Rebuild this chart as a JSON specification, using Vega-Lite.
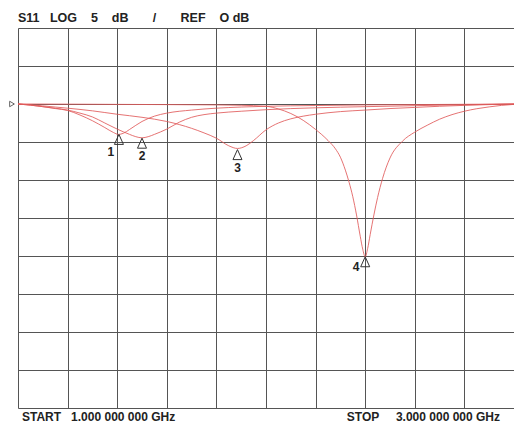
{
  "$schema": "https://vega.github.io/schema/vega-lite/v6.json",
  "width": 496,
  "height": 380,
  "padding": {"left": 18, "top": 28, "right": 0, "bottom": 21},
  "autosize": {"type": "none"},
  "background": "white",
  "config": {
    "view": {"stroke": null},
    "font": "Liberation Sans",
    "axis": {"grid": true, "gridColor": "#555", "gridWidth": 1, "gridOpacity": 1, "labels": false, "ticks": false, "domain": false, "title": null}
  },
  "title": {
    "text": "S11\u00a0\u00a0\u00a0LOG\u00a0\u00a0\u00a0\u00a05\u00a0\u00a0\u00a0\u00a0dB\u00a0\u00a0\u00a0\u00a0\u00a0\u00a0\u00a0/\u00a0\u00a0\u00a0\u00a0\u00a0\u00a0\u00a0REF\u00a0\u00a0\u00a0\u00a0O dB",
    "anchor": "start",
    "frame": "group",
    "fontSize": 12.5,
    "fontWeight": "bold",
    "color": "#222",
    "offset": 4,
    "font": "Liberation Sans"
  },
  "datasets": {
    "traces": [
      {"s": 1, "f": 1.00, "db": 0}, {"s": 1, "f": 1.05, "db": -0.15}, {"s": 1, "f": 1.10, "db": -0.35}, {"s": 1, "f": 1.15, "db": -0.6}, {"s": 1, "f": 1.20, "db": -0.85}, {"s": 1, "f": 1.25, "db": -1.45}, {"s": 1, "f": 1.30, "db": -2.2}, {"s": 1, "f": 1.35, "db": -3.1}, {"s": 1, "f": 1.385, "db": -3.75}, {"s": 1, "f": 1.405, "db": -4.0}, {"s": 1, "f": 1.425, "db": -3.85}, {"s": 1, "f": 1.45, "db": -3.35}, {"s": 1, "f": 1.50, "db": -2.3}, {"s": 1, "f": 1.55, "db": -1.6}, {"s": 1, "f": 1.60, "db": -1.2}, {"s": 1, "f": 1.70, "db": -0.8}, {"s": 1, "f": 1.80, "db": -0.55}, {"s": 1, "f": 1.90, "db": -0.4}, {"s": 1, "f": 2.00, "db": -0.3}, {"s": 1, "f": 2.20, "db": -0.2}, {"s": 1, "f": 2.40, "db": -0.12}, {"s": 1, "f": 2.60, "db": -0.08}, {"s": 1, "f": 2.80, "db": -0.04}, {"s": 1, "f": 3.00, "db": 0},
      {"s": 2, "f": 1.00, "db": 0}, {"s": 2, "f": 1.05, "db": -0.15}, {"s": 2, "f": 1.10, "db": -0.35}, {"s": 2, "f": 1.15, "db": -0.55}, {"s": 2, "f": 1.20, "db": -0.8}, {"s": 2, "f": 1.25, "db": -1.2}, {"s": 2, "f": 1.30, "db": -1.7}, {"s": 2, "f": 1.35, "db": -2.5}, {"s": 2, "f": 1.40, "db": -3.3}, {"s": 2, "f": 1.45, "db": -4.0}, {"s": 2, "f": 1.475, "db": -4.3}, {"s": 2, "f": 1.50, "db": -4.45}, {"s": 2, "f": 1.525, "db": -4.3}, {"s": 2, "f": 1.55, "db": -4.0}, {"s": 2, "f": 1.60, "db": -3.3}, {"s": 2, "f": 1.65, "db": -2.4}, {"s": 2, "f": 1.70, "db": -1.75}, {"s": 2, "f": 1.75, "db": -1.4}, {"s": 2, "f": 1.80, "db": -1.2}, {"s": 2, "f": 1.90, "db": -0.95}, {"s": 2, "f": 2.00, "db": -0.75}, {"s": 2, "f": 2.20, "db": -0.5}, {"s": 2, "f": 2.40, "db": -0.35}, {"s": 2, "f": 2.60, "db": -0.22}, {"s": 2, "f": 2.80, "db": -0.1}, {"s": 2, "f": 3.00, "db": 0},
      {"s": 3, "f": 1.00, "db": 0}, {"s": 3, "f": 1.05, "db": -0.1}, {"s": 3, "f": 1.10, "db": -0.25}, {"s": 3, "f": 1.15, "db": -0.4}, {"s": 3, "f": 1.20, "db": -0.55}, {"s": 3, "f": 1.30, "db": -0.9}, {"s": 3, "f": 1.40, "db": -1.35}, {"s": 3, "f": 1.50, "db": -1.75}, {"s": 3, "f": 1.60, "db": -2.3}, {"s": 3, "f": 1.70, "db": -3.2}, {"s": 3, "f": 1.75, "db": -3.8}, {"s": 3, "f": 1.80, "db": -4.5}, {"s": 3, "f": 1.85, "db": -5.5}, {"s": 3, "f": 1.885, "db": -5.85}, {"s": 3, "f": 1.92, "db": -5.5}, {"s": 3, "f": 1.95, "db": -4.8}, {"s": 3, "f": 2.00, "db": -3.4}, {"s": 3, "f": 2.05, "db": -2.5}, {"s": 3, "f": 2.10, "db": -1.95}, {"s": 3, "f": 2.15, "db": -1.6}, {"s": 3, "f": 2.20, "db": -1.35}, {"s": 3, "f": 2.30, "db": -1.0}, {"s": 3, "f": 2.40, "db": -0.8}, {"s": 3, "f": 2.50, "db": -0.6}, {"s": 3, "f": 2.60, "db": -0.45}, {"s": 3, "f": 2.70, "db": -0.3}, {"s": 3, "f": 2.80, "db": -0.18}, {"s": 3, "f": 2.90, "db": -0.08}, {"s": 3, "f": 3.00, "db": 0},
      {"s": 4, "f": 1.00, "db": 0}, {"s": 4, "f": 1.20, "db": -0.02}, {"s": 4, "f": 1.40, "db": -0.05}, {"s": 4, "f": 1.60, "db": -0.08}, {"s": 4, "f": 1.80, "db": -0.12}, {"s": 4, "f": 1.90, "db": -0.17}, {"s": 4, "f": 2.00, "db": -0.3}, {"s": 4, "f": 2.05, "db": -0.65}, {"s": 4, "f": 2.10, "db": -1.25}, {"s": 4, "f": 2.15, "db": -2.15}, {"s": 4, "f": 2.20, "db": -3.35}, {"s": 4, "f": 2.25, "db": -4.8}, {"s": 4, "f": 2.28, "db": -5.9}, {"s": 4, "f": 2.30, "db": -7.0}, {"s": 4, "f": 2.32, "db": -8.7}, {"s": 4, "f": 2.335, "db": -10.3}, {"s": 4, "f": 2.35, "db": -12.2}, {"s": 4, "f": 2.365, "db": -14.6}, {"s": 4, "f": 2.38, "db": -17.4}, {"s": 4, "f": 2.39, "db": -19.1}, {"s": 4, "f": 2.40, "db": -20.1}, {"s": 4, "f": 2.41, "db": -19.0}, {"s": 4, "f": 2.42, "db": -17.2}, {"s": 4, "f": 2.435, "db": -14.6}, {"s": 4, "f": 2.45, "db": -12.3}, {"s": 4, "f": 2.47, "db": -9.8}, {"s": 4, "f": 2.50, "db": -7.1}, {"s": 4, "f": 2.55, "db": -4.9}, {"s": 4, "f": 2.60, "db": -3.7}, {"s": 4, "f": 2.65, "db": -2.8}, {"s": 4, "f": 2.70, "db": -2.0}, {"s": 4, "f": 2.75, "db": -1.4}, {"s": 4, "f": 2.80, "db": -0.95}, {"s": 4, "f": 2.85, "db": -0.62}, {"s": 4, "f": 2.90, "db": -0.38}, {"s": 4, "f": 2.95, "db": -0.18}, {"s": 4, "f": 3.00, "db": -0.05}
    ],
    "markers": [
      {"id": "1", "f": 1.407, "db": -4.0},
      {"id": "2", "f": 1.50, "db": -4.5},
      {"id": "3", "f": 1.885, "db": -6.0},
      {"id": "4", "f": 2.40, "db": -20.1}
    ],
    "notes": [
      {"side": "start", "label": "START\u00a0\u00a0\u00a01.000 000 000 GHz"},
      {"side": "stop", "label": "STOP\u00a0\u00a0\u00a0\u00a0\u00a03.000 000 000 GHz"}
    ]
  },
  "layer": [
    {
      "data": {"name": "traces"},
      "mark": {"type": "line", "color": "#e05a5a", "strokeWidth": 1, "opacity": 0.85, "interpolate": "monotone"},
      "encoding": {
        "x": {"field": "f", "type": "quantitative", "scale": {"domain": [1, 3], "nice": false, "zero": false},
          "axis": {"values": [1, 1.2, 1.4, 1.6, 1.8, 2, 2.2, 2.4, 2.6, 2.8, 3], "tickCount": 11}},
        "y": {"field": "db", "type": "quantitative", "scale": {"domain": [-40, 10], "nice": false, "zero": false},
          "axis": {"values": [-40, -35, -30, -25, -20, -15, -10, -5, 0, 5, 10], "tickCount": 11}},
        "detail": {"field": "s", "type": "nominal"}
      }
    },
    {
      "data": {"name": "markers"},
      "mark": {"type": "point", "shape": "M0,0L-0.9,2L0.9,2Z", "size": 100, "filled": false, "color": "#333", "strokeWidth": 1, "opacity": 1},
      "encoding": {
        "x": {"field": "f", "type": "quantitative", "axis": {"values": [1, 1.2, 1.4, 1.6, 1.8, 2, 2.2, 2.4, 2.6, 2.8, 3], "tickCount": 11}},
        "y": {"field": "db", "type": "quantitative", "axis": {"values": [-40, -35, -30, -25, -20, -15, -10, -5, 0, 5, 10], "tickCount": 11}}
      }
    },
    {
      "data": {"name": "markers"},
      "transform": [{"filter": "datum.id == '1'"}],
      "mark": {"type": "text", "dx": -8, "dy": 18, "fontSize": 12, "fontWeight": "bold", "color": "#222", "baseline": "middle", "align": "center"},
      "encoding": {
        "x": {"field": "f", "type": "quantitative", "axis": {"values": [1, 1.2, 1.4, 1.6, 1.8, 2, 2.2, 2.4, 2.6, 2.8, 3], "tickCount": 11}},
        "y": {"field": "db", "type": "quantitative", "axis": {"values": [-40, -35, -30, -25, -20, -15, -10, -5, 0, 5, 10], "tickCount": 11}},
        "text": {"field": "id"}
      }
    },
    {
      "data": {"name": "markers"},
      "transform": [{"filter": "datum.id == '2' || datum.id == '3'"}],
      "mark": {"type": "text", "dx": 0, "dy": 18, "fontSize": 12, "fontWeight": "bold", "color": "#222", "baseline": "middle", "align": "center"},
      "encoding": {
        "x": {"field": "f", "type": "quantitative", "axis": {"values": [1, 1.2, 1.4, 1.6, 1.8, 2, 2.2, 2.4, 2.6, 2.8, 3], "tickCount": 11}},
        "y": {"field": "db", "type": "quantitative", "axis": {"values": [-40, -35, -30, -25, -20, -15, -10, -5, 0, 5, 10], "tickCount": 11}},
        "text": {"field": "id"}
      }
    },
    {
      "data": {"name": "markers"},
      "transform": [{"filter": "datum.id == '4'"}],
      "mark": {"type": "text", "dx": -9, "dy": 10, "fontSize": 12, "fontWeight": "bold", "color": "#222", "baseline": "middle", "align": "center"},
      "encoding": {
        "x": {"field": "f", "type": "quantitative", "axis": {"values": [1, 1.2, 1.4, 1.6, 1.8, 2, 2.2, 2.4, 2.6, 2.8, 3], "tickCount": 11}},
        "y": {"field": "db", "type": "quantitative", "axis": {"values": [-40, -35, -30, -25, -20, -15, -10, -5, 0, 5, 10], "tickCount": 11}},
        "text": {"field": "id"}
      }
    },
    {
      "data": {"name": "notes"},
      "transform": [{"filter": "datum.side == 'start'"}],
      "mark": {"type": "text", "align": "left", "baseline": "middle", "dx": 4, "fontSize": 12, "fontWeight": "bold", "color": "#222"},
      "encoding": {
        "x": {"datum": 1, "type": "quantitative", "axis": {"values": [1, 1.2, 1.4, 1.6, 1.8, 2, 2.2, 2.4, 2.6, 2.8, 3], "tickCount": 11}},
        "y": {"datum": -41.2, "type": "quantitative", "axis": {"values": [-40, -35, -30, -25, -20, -15, -10, -5, 0, 5, 10], "tickCount": 11}},
        "text": {"field": "label"}
      }
    },
    {
      "data": {"name": "notes"},
      "transform": [{"filter": "datum.side == 'stop'"}],
      "mark": {"type": "text", "align": "right", "baseline": "middle", "dx": -14, "fontSize": 12, "fontWeight": "bold", "color": "#222"},
      "encoding": {
        "x": {"datum": 3, "type": "quantitative", "axis": {"values": [1, 1.2, 1.4, 1.6, 1.8, 2, 2.2, 2.4, 2.6, 2.8, 3], "tickCount": 11}},
        "y": {"datum": -41.2, "type": "quantitative", "axis": {"values": [-40, -35, -30, -25, -20, -15, -10, -5, 0, 5, 10], "tickCount": 11}},
        "text": {"field": "label"}
      }
    },
    {
      "data": {"values": [{"ref": 0}]},
      "mark": {"type": "point", "shape": "triangle-right", "size": 30, "filled": false, "color": "#666", "strokeWidth": 1, "xOffset": -6, "opacity": 1},
      "encoding": {
        "x": {"datum": 1, "type": "quantitative", "axis": {"values": [1, 1.2, 1.4, 1.6, 1.8, 2, 2.2, 2.4, 2.6, 2.8, 3], "tickCount": 11}},
        "y": {"field": "ref", "type": "quantitative", "axis": {"values": [-40, -35, -30, -25, -20, -15, -10, -5, 0, 5, 10], "tickCount": 11}}
      }
    }
  ]
}
